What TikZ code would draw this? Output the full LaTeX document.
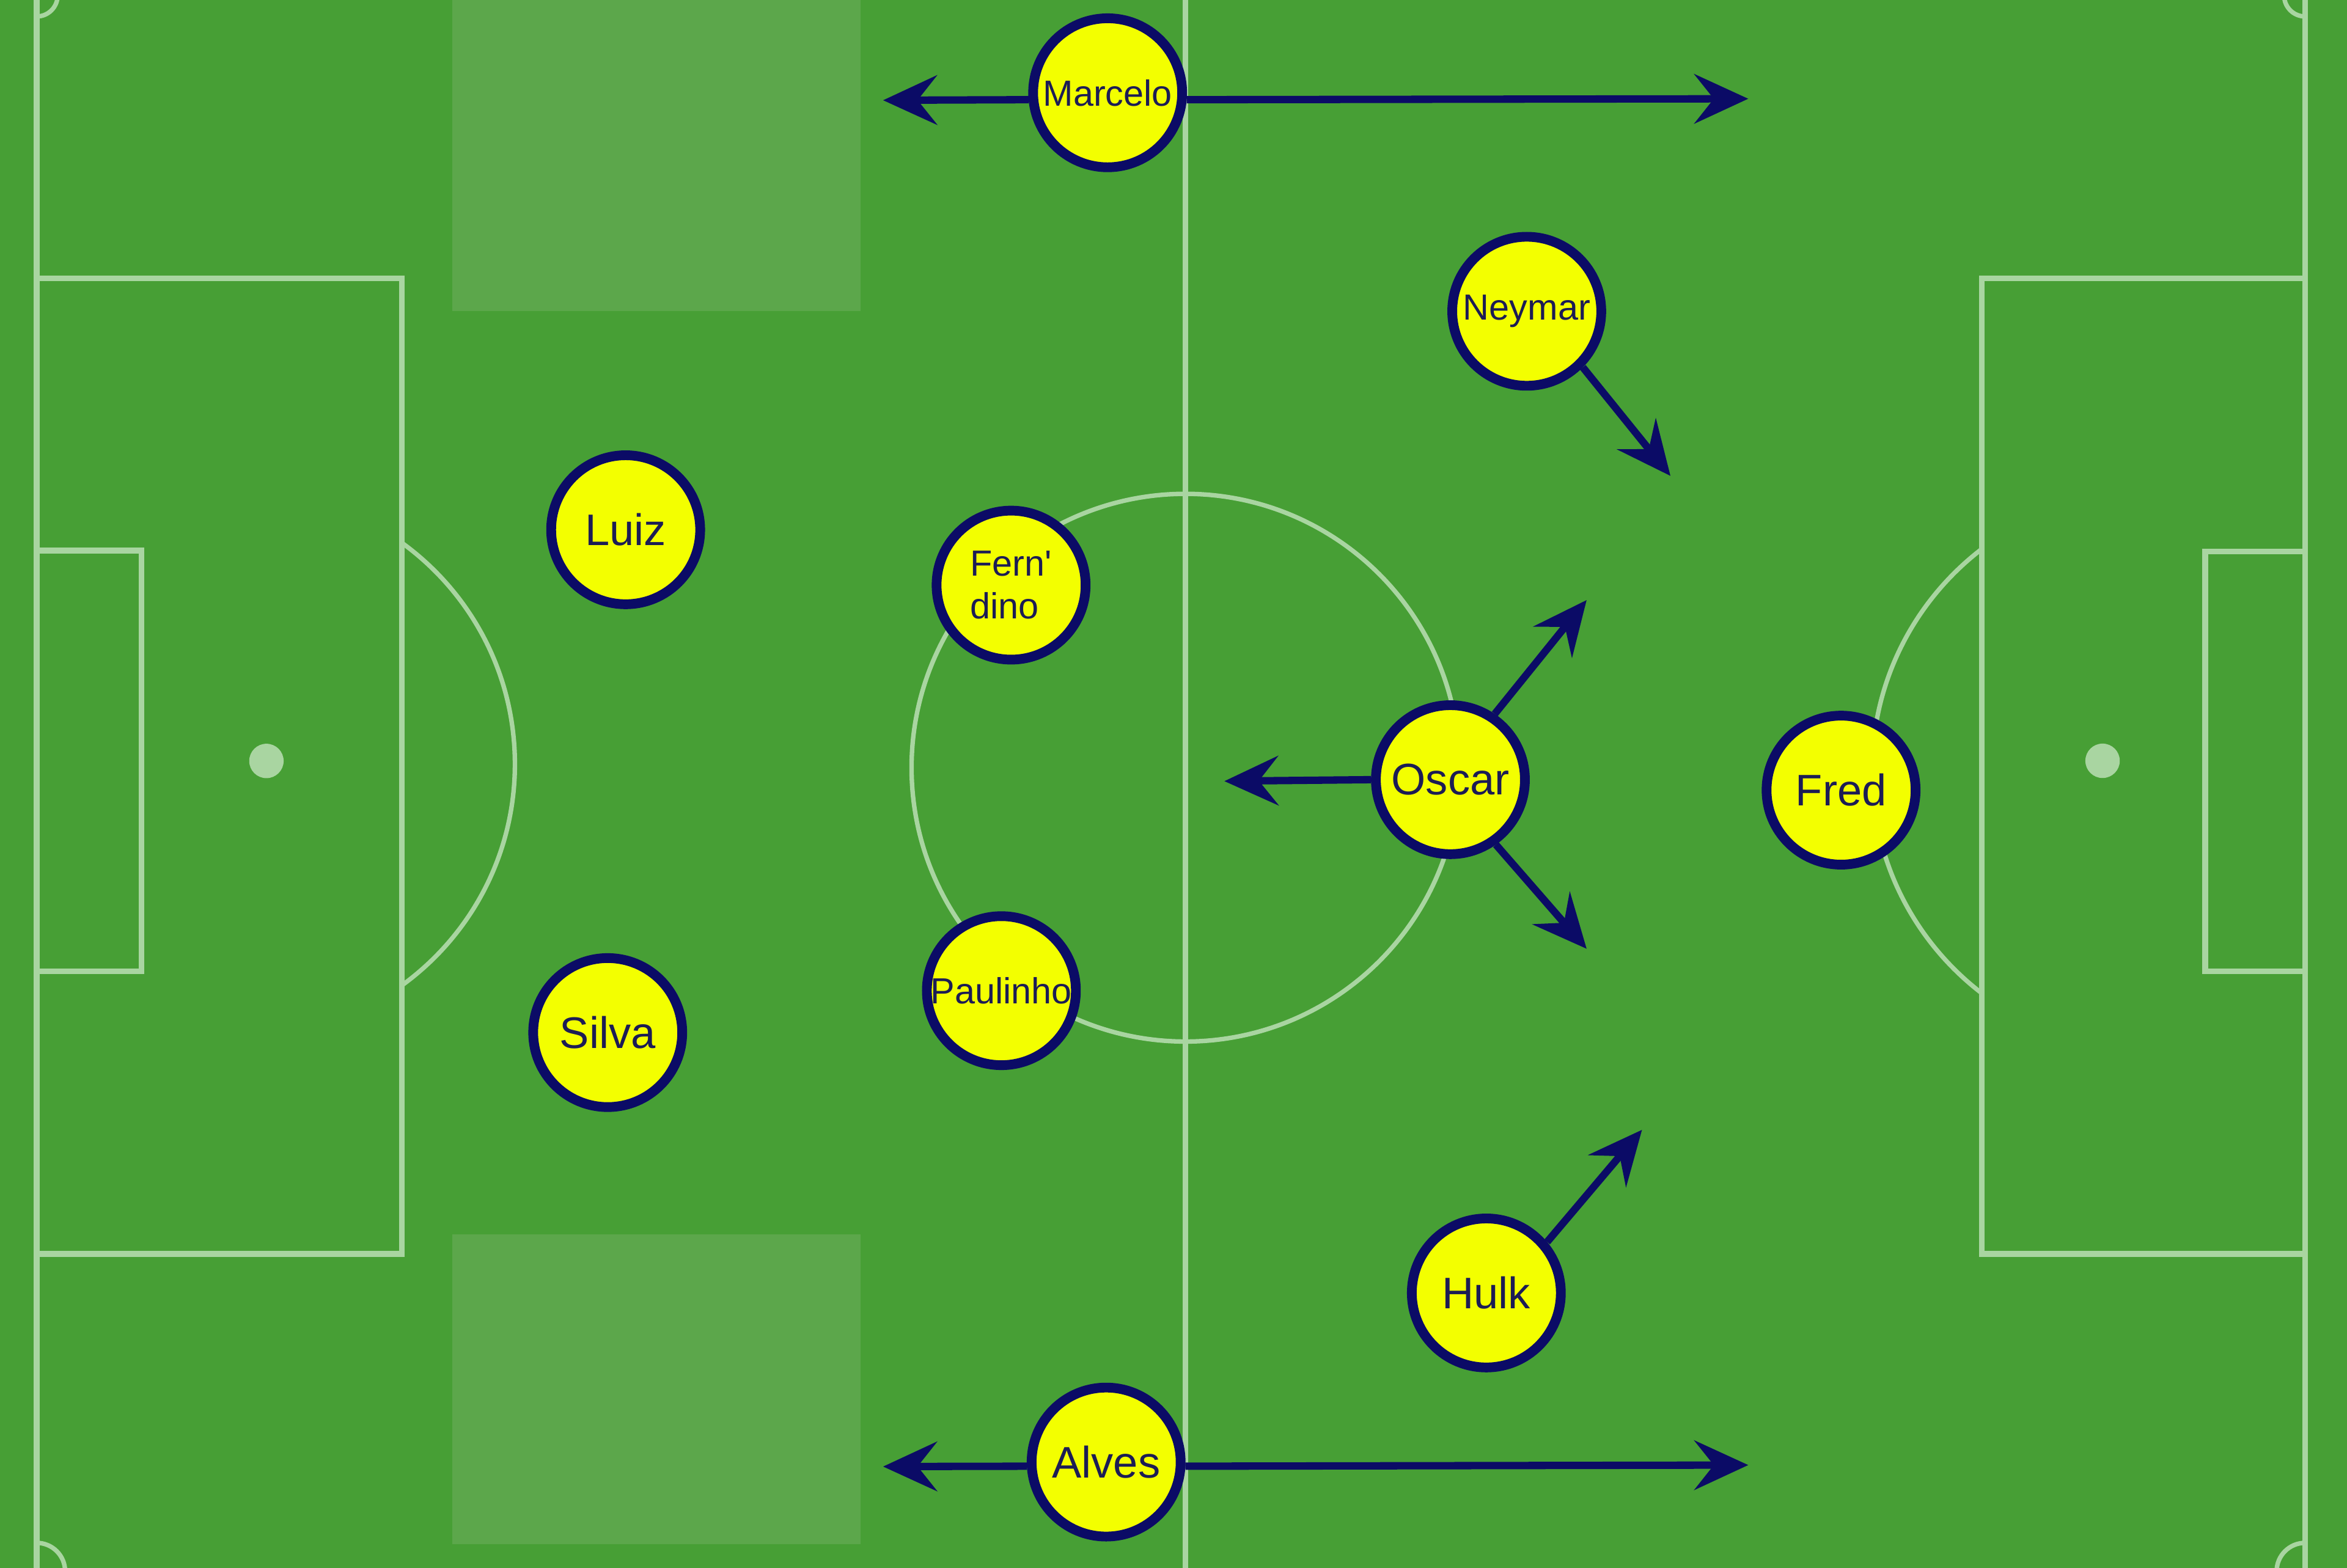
\documentclass[tikz,border=0pt]{standalone}
\usepackage{fontspec}
\setmainfont{Liberation Sans}
\usetikzlibrary{arrows.meta}
\definecolor{grass}{HTML}{479F35}
\definecolor{grasslight}{HTML}{5CA74B}
\definecolor{chalk}{HTML}{A9D5A1}
\definecolor{ball}{HTML}{F3FF00}
\definecolor{navy}{HTML}{0B0B66}
\definecolor{txt}{HTML}{1C1C55}
\tikzset{
  chalkline/.style={draw=chalk, line width=1.1pt},
  chalkarc/.style={draw=chalk, line width=0.85pt},
  player/.style={circle, draw=navy, fill=ball, line width=1.85pt, minimum size=0.995cm,
    inner sep=0pt, text=txt, font=\fontsize{8.4}{9.5}\selectfont},
  smallname/.style={font=\fontsize{6.9}{8.2}\selectfont},
  run/.style={draw=navy, line width=1.4pt, -{Stealth[length=0.36cm, width=0.33cm, inset=0.13cm]}}
}
\begin{document}
\begin{tikzpicture}[x=0.01cm, y=-0.01cm]
\useasboundingbox (0,0) rectangle (1568,1047.8);
\clip (0,0) rectangle (1568,1047.8);
% grass
\fill[grass] (0,0) rectangle (1568,1047.8);
\fill[grasslight] (302,0) rectangle (575,208);
\fill[grasslight] (302,825) rectangle (575,1032);
% markings
\draw[chalkline] (24.5,-10) -- (24.5,1060);
\draw[chalkline] (1540,-10) -- (1540,1060);
\draw[chalkline] (792,-10) -- (792,1060);
\draw[chalkline] (24.5,186) rectangle (268.5,838);
\draw[chalkline] (24.5,368) rectangle (94.5,649);
\draw[chalkline] (1540,186) rectangle (1324,838);
\draw[chalkline] (1540,368.5) rectangle (1473.3,649);
\draw[chalkarc] (792,513) circle[radius=183];
\begin{scope}
  \clip (268.5,0) rectangle (600,1048);
  \draw[chalkarc] (161.5,510.6) circle[radius=182.5];
\end{scope}
\begin{scope}
  \clip (1000,0) rectangle (1324,1048);
  \draw[chalkarc] (1437.6,515.3) circle[radius=186.9];
\end{scope}
\fill[chalk] (178,508.5) circle[radius=11.5];
\fill[chalk] (1404.7,508.4) circle[radius=11.5];
\draw[chalkarc] (24.5,11) arc[start angle=90, end angle=0, radius=14];
\draw[chalkarc] (24.5,1031) arc[start angle=-90, end angle=0, radius=19];
\draw[chalkarc] (1526,-3) arc[start angle=180, end angle=90, radius=14];
\draw[chalkarc] (1540,1031) arc[start angle=-90, end angle=-180, radius=19];
% players
\node[player, smallname] (marcelo) at (740,62) {Marcelo};
\node[player, smallname] (neymar) at (1020,208) {Neymar};
\node[player] (luiz) at (418,354) {Luiz};
\node[player, smallname, align=left] (ferndino) at (675.5,391) {Fern\textquotesingle\\dino};
\node[player] (oscar) at (969,521) {Oscar};
\node[player] (fred) at (1230,528) {Fred};
\node[player] (silva) at (406,690) {Silva};
\node[player, smallname] (paulinho) at (669,662) {Paulinho};
\node[player] (hulk) at (993,864) {Hulk};
\node[player] (alves) at (739,977) {Alves};
% arrow tips
\coordinate (mL) at (590,67);
\coordinate (mR) at (1168,66);
\coordinate (aL) at (590,980);
\coordinate (aR) at (1168,979);
\coordinate (nT) at (1116,318);
\coordinate (oL) at (818,522);
\coordinate (oU) at (1060,401);
\coordinate (oD) at (1060,634);
\coordinate (hT) at (1097,755);
% runs
\draw[run] (marcelo.185) -- (mL);
\draw[run] (marcelo.-5) -- (mR);
\draw[run] (alves.183) -- (aL);
\draw[run] (alves.-3) -- (aR);
\draw[run] (neymar.-45) -- (nT);
\draw[run] (oscar.180) -- (oL);
\draw[run] (oscar.56) -- (oU);
\draw[run] (oscar.-55) -- (oD);
\draw[run] (hulk.40) -- (hT);
\end{tikzpicture}
\end{document}
